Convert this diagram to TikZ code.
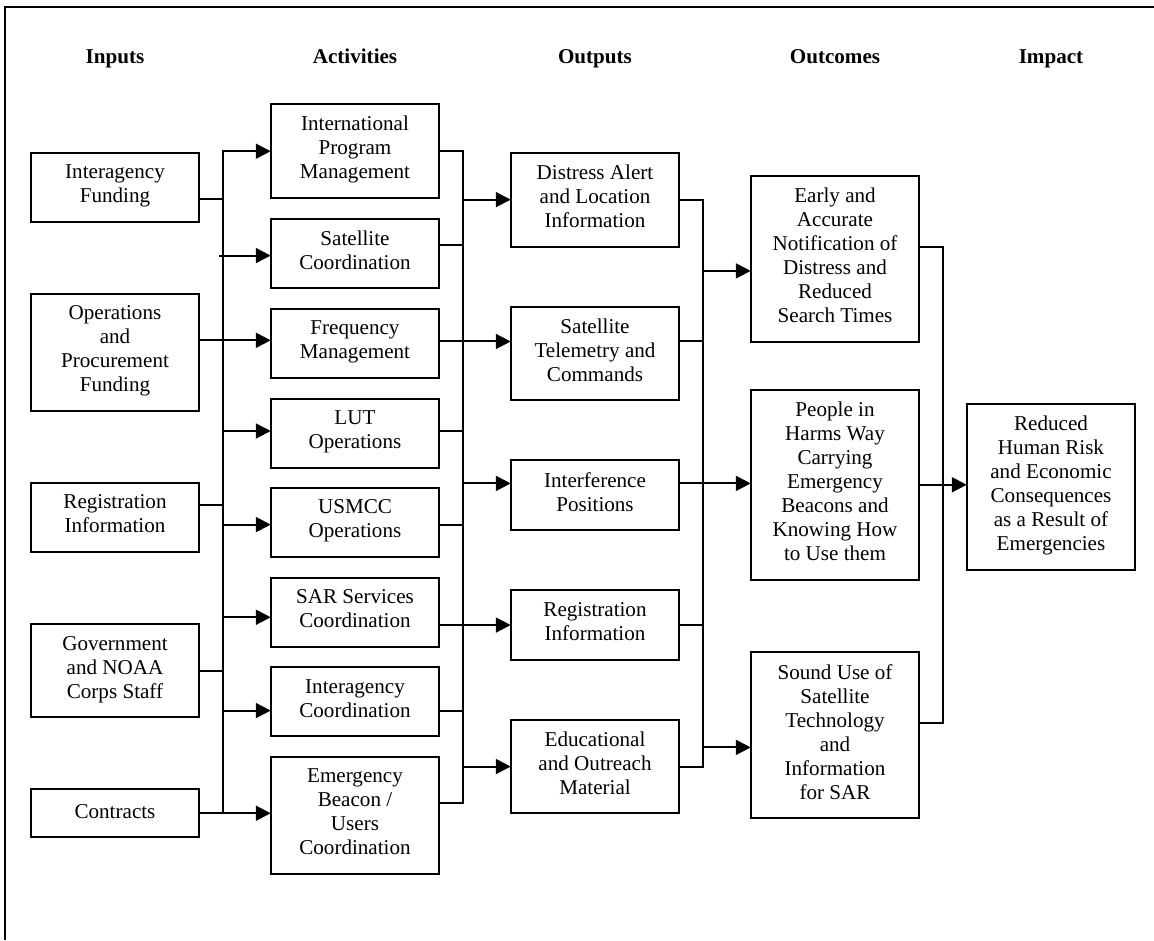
\documentclass[tikz,border=0pt]{standalone}
\usepackage{fontspec}
\setmainfont{Liberation Serif}
\usetikzlibrary{arrows.meta,positioning}

\begin{document}
\begin{tikzpicture}[
  x=1pt, y=-1pt,
  hdr/.style={font=\fontsize{21.1}{24}\selectfont\bfseries, anchor=base, inner sep=0pt},
  lbox/.style={draw, line width=2pt, align=center, minimum width=168.5pt, inner xsep=4pt, inner ysep=12pt, outer sep=0pt,
    font=\fontsize{21.1}{24}\selectfont, execute at begin node=\strut, execute at end node=\strut},
  wire/.style={line width=2pt, line cap=rect},
  arr/.style={-{Triangle[length=15pt,width=15pt]}, line width=2pt, line cap=rect}
]
  \useasboundingbox (0,0) rectangle (1154,940);
  \draw[line width=2pt] (5,940) -- (5,7) -- (1154,7);

  \node[hdr] (hin) at (115,63) {Inputs};
  \node[hdr] (hact) at (355,63) {Activities};
  \node[hdr] (hout) at (595,63) {Outputs};
  \node[hdr] (hoc) at (835,63) {Outcomes};
  \node[hdr] (himp) at (1051,63) {Impact};

  \node[lbox, anchor=north] (fund) at (115,152.7) {Interagency\\Funding};
  \node[lbox, below=72pt of fund] (ops) {Operations\\and\\Procurement\\Funding};
  \node[lbox, below=72pt of ops] (reg) {Registration\\Information};
  \node[lbox, below=72pt of reg] (gov) {Government\\and NOAA\\Corps Staff};
  \node[lbox, below=72pt of gov] (con) {Contracts};

  \node[lbox, anchor=north] (ipm) at (355,104.3) {International\\Program\\Management};
  \node[lbox, below=20.5pt of ipm] (satc) {Satellite\\Coordination};
  \node[lbox, below=20.5pt of satc] (freq) {Frequency\\Management};
  \node[lbox, below=20.5pt of freq] (lut) {LUT\\Operations};
  \node[lbox, below=20.5pt of lut] (usmcc) {USMCC\\Operations};
  \node[lbox, below=20.5pt of usmcc] (sar) {SAR Services\\Coordination};
  \node[lbox, below=20.5pt of sar] (iac) {Interagency\\Coordination};
  \node[lbox, below=20.5pt of iac] (ebc) {Emergency\\Beacon /\\Users\\Coordination};

  \node[lbox, anchor=north] (alert) at (595,152.7) {Distress Alert\\and Location\\Information};
  \node[lbox, below=60pt of alert] (telem) {Satellite\\Telemetry and\\Commands};
  \node[lbox, below=60pt of telem] (intf) {Interference\\Positions};
  \node[lbox, below=60pt of intf] (regi) {Registration\\Information};
  \node[lbox, below=60pt of regi] (edu) {Educational\\and Outreach\\Material};

  \node[lbox, anchor=north] (early) at (835,176) {Early and\\Accurate\\Notification of\\Distress and\\Reduced\\Search Times};
  \node[lbox, below=48pt of early] (people) {People in\\Harms Way\\Carrying\\Emergency\\Beacons and\\Knowing How\\to Use them};
  \node[lbox, below=72.7pt of people] (sound) {Sound Use of\\Satellite\\Technology\\and\\Information\\for SAR};

  \node[lbox, anchor=north] (imp) at (1051,404.3) {Reduced\\Human Risk\\and Economic\\Consequences\\as a Result of\\Emergencies};

  \coordinate (busA) at (223,0);
  \coordinate (busB) at (462.8,0);
  \coordinate (busC) at (702.7,0);
  \coordinate (busD) at (942.8,0);

  \draw[wire] (busA |- ipm.west) -- (busA |- con.east);
  \draw[wire] ([yshift=-12pt]fund.east) -- ([yshift=-12pt]fund.east -| busA);
  \draw[arr] ([yshift=12pt]ops.east) -- ([yshift=12pt]ops.east -| freq.west);
  \draw[wire] ([yshift=12pt]reg.east) -- ([yshift=12pt]reg.east -| busA);
  \draw[wire] (gov.east) -- (gov.east -| busA);
  \draw[arr] (con.east) -- (con.east -| ebc.west);
  \draw[arr] (busA |- ipm.west) -- (ipm.west);
  \draw[arr] ([xshift=-3pt,yshift=-2pt]busA |- satc.west) -- ([yshift=-2pt]satc.west);
  \draw[arr] ([yshift=2pt]busA |- lut.west) -- ([yshift=2pt]lut.west);
  \draw[arr] ([yshift=-2pt]busA |- usmcc.west) -- ([yshift=-2pt]usmcc.west);
  \draw[arr] ([yshift=-5pt]busA |- sar.west) -- ([yshift=-5pt]sar.west);
  \draw[arr] ([yshift=-8.7pt]busA |- iac.west) -- ([yshift=-8.7pt]iac.west);

  \draw[wire] (busB |- ipm.east) -- ([yshift=12pt]busB |- ebc.east);
  \draw[wire] (ipm.east) -- (ipm.east -| busB);
  \draw[wire] ([yshift=8.5pt]satc.east) -- ([yshift=8.5pt]satc.east -| busB);
  \draw[arr] ([yshift=12pt]telem.west -| freq.east) -- ([yshift=12pt]telem.west);
  \draw[wire] ([yshift=2pt]lut.east) -- ([yshift=2pt]lut.east -| busB);
  \draw[wire] ([yshift=-2pt]usmcc.east) -- ([yshift=-2pt]usmcc.east -| busB);
  \draw[arr] (sar.east |- regi.west) -- (regi.west);
  \draw[wire] ([yshift=-8.7pt]iac.east) -- ([yshift=-8.7pt]iac.east -| busB);
  \draw[wire] ([yshift=12pt]ebc.east) -- ([yshift=12pt]ebc.east -| busB);
  \draw[arr] (busB |- alert.west) -- (alert.west);
  \draw[arr] ([yshift=12pt]busB |- intf.west) -- ([yshift=12pt]intf.west);
  \draw[arr] (busB |- edu.west) -- (edu.west);

  \draw[wire] (busC |- alert.east) -- (busC |- edu.east);
  \draw[wire] (alert.east) -- (alert.east -| busC);
  \draw[wire] ([yshift=12pt]telem.east) -- ([yshift=12pt]telem.east -| busC);
  \draw[arr] ([yshift=12pt]intf.east) -- ([yshift=12pt]intf.east -| people.west);
  \draw[wire] (regi.east) -- (regi.east -| busC);
  \draw[wire] (edu.east) -- (edu.east -| busC);
  \draw[arr] ([yshift=-12pt]busC |- early.west) -- ([yshift=-12pt]early.west);
  \draw[arr] ([yshift=-12pt]busC |- sound.west) -- ([yshift=-12pt]sound.west);

  \draw[wire] ([yshift=12pt]busD |- early.east) -- ([yshift=12pt]busD |- sound.east);
  \draw[wire] ([yshift=12pt]early.east) -- ([yshift=12pt]early.east -| busD);
  \draw[arr] (people.east) -- (people.east -| imp.west);
  \draw[wire] ([yshift=12pt]sound.east) -- ([yshift=12pt]sound.east -| busD);
\end{tikzpicture}
\end{document}
